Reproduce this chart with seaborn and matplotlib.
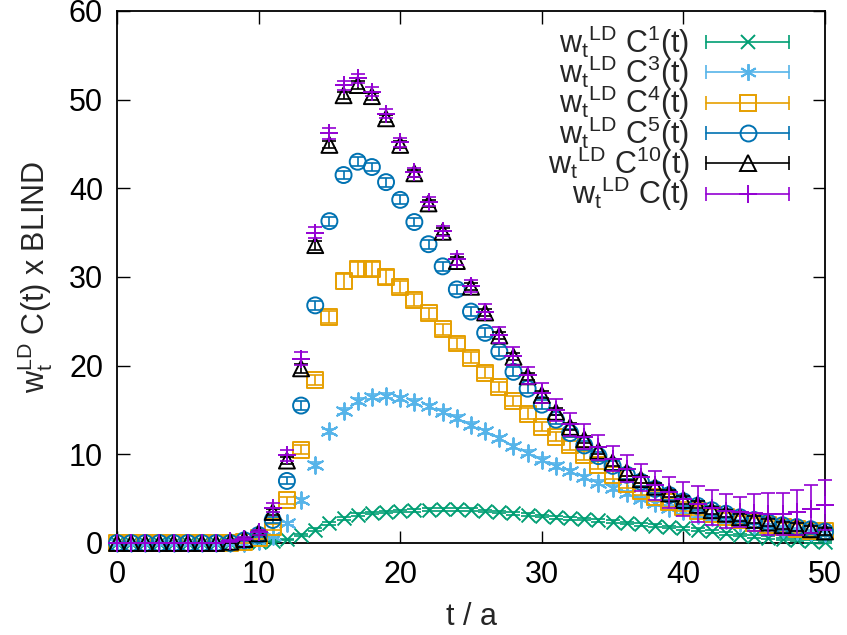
import matplotlib
matplotlib.use("Agg")
import matplotlib.pyplot as plt
import seaborn as sns
import pandas as pd
from matplotlib.lines import Line2D
from matplotlib.legend_handler import HandlerLine2D, HandlerTuple

# ---------------- data ----------------
t = list(range(51))

c1 = [0, 0, 0, 0, 0, 0, 0, 0, 0, 0.0, 0.1, 0.2, 0.4, 0.9, 1.5, 2.2, 2.8, 3.2, 3.4, 3.5,
      3.6, 3.7, 3.75, 3.8, 3.8, 3.75, 3.6, 3.5, 3.35, 3.2, 3.05, 2.9, 2.8, 2.7, 2.55, 2.4,
      2.25, 2.1, 1.95, 1.8, 1.65, 1.5, 1.3, 1.1, 0.9, 0.75, 0.6, 0.45, 0.35, 0.2, 0.1]
c3 = [0, 0, 0, 0, 0, 0, 0, 0, 0, 0, 0.25, 0.8, 2.2, 4.8, 8.8, 12.6, 14.9, 16.0, 16.5, 16.6,
      16.3, 15.9, 15.4, 14.8, 14.1, 13.3, 12.6, 11.8, 10.9, 10.2, 9.4, 8.7, 8.1, 7.4, 6.8, 6.2,
      5.6, 5.0, 4.5, 4.0, 3.6, 3.2, 2.9, 2.6, 2.3, 2.0, 1.8, 1.6, 1.4, 1.2, 1.1]
c4 = [0, 0, 0, 0, 0, 0, 0, 0, 0, 0.1, 0.6, 1.8, 4.8, 10.5, 18.4, 25.5, 29.5, 30.9, 30.9, 30.0,
      28.9, 27.4, 25.9, 24.1, 22.5, 20.9, 19.2, 17.6, 16.0, 14.6, 13.1, 12.0, 11.0, 9.9, 8.8, 7.7,
      6.7, 5.9, 5.2, 4.6, 4.1, 3.65, 3.3, 2.9, 2.6, 2.3, 2.0, 1.8, 1.6, 1.4, 1.3]
c5 = [0, 0, 0, 0, 0, 0, 0, 0, 0, 0.3, 0.9, 2.6, 7.0, 15.5, 26.8, 36.3, 41.5, 43.0, 42.4, 40.7,
      38.7, 36.2, 33.7, 31.2, 28.6, 26.1, 23.7, 21.6, 19.3, 17.4, 15.6, 13.9, 12.4, 11.0, 9.8, 8.7,
      7.7, 6.9, 6.1, 5.4, 4.7, 4.2, 3.7, 3.3, 2.9, 2.6, 2.3, 2.0, 1.8, 1.55, 1.3]
c10 = [0, 0, 0, 0, 0, 0, 0, 0, 0.15, 0.45, 1.1, 3.5, 9.3, 19.7, 33.6, 44.9, 50.5, 51.65, 50.4, 47.9,
       44.9, 41.7, 38.3, 35.1, 31.8, 28.9, 26.0, 23.4, 21.0, 18.8, 16.7, 14.8, 13.1, 11.7, 10.4, 9.1,
       8.0, 7.2, 6.35, 5.6, 4.85, 4.3, 3.7, 3.3, 2.9, 2.6, 2.3, 2.0, 1.8, 1.55, 1.3]
cfull = [0, 0, 0, 0, 0, 0, 0, 0, 0.2, 0.5, 1.2, 4.0, 9.9, 20.8, 35.0, 46.2, 51.6, 52.4, 50.9, 48.4,
         45.2, 41.8, 38.5, 35.2, 32.0, 29.0, 26.1, 23.5, 21.1, 18.9, 16.9, 15.0, 13.4, 12.0, 10.8, 9.5,
         8.4, 7.4, 6.5, 5.7, 5.0, 4.4, 4.0, 3.6, 3.5, 3.4, 3.25, 3.25, 3.45, 3.8, 4.3]

# error bars (t = 0..50)
e1 = ([0.02] * 10 + [0.05, 0.08, 0.1, 0.12, 0.15, 0.15, 0.15, 0.15, 0.15, 0.15]
      + [0.15] * 31)
e3 = ([0.02] * 10 + [0.1, 0.15, 0.2, 0.25, 0.3, 0.3, 0.3, 0.3, 0.3, 0.3]
      + [0.3] * 31)
e4 = ([0.03] * 9 + [0.1, 0.2, 0.3, 0.4, 0.5, 0.6, 0.7, 0.8, 0.8, 0.8, 0.8]
      + [0.7, 0.7, 0.6, 0.6, 0.6, 0.6, 0.6, 0.6, 0.6, 0.6] + [0.5] * 21)
e5 = ([0.03] * 9 + [0.1, 0.2, 0.3, 0.4, 0.5, 0.5, 0.5, 0.5, 0.5, 0.5, 0.5]
      + [0.5] * 31)
e10 = ([0.03] * 8 + [0.1, 0.15, 0.2, 0.3, 0.4, 0.5, 0.5, 0.4, 0.4, 0.4, 0.4, 0.4]
       + [0.4] * 31)
efull = ([0.05] * 8 + [0.1, 0.2, 0.3, 0.5, 0.6, 0.7, 0.6, 0.6, 0.5, 0.5, 0.5, 0.5]
         + [0.5, 0.5, 0.5, 0.6, 0.6, 0.7, 0.8, 0.9, 1.0, 1.0, 1.1, 1.2, 1.3, 1.4, 1.4]
         + [1.4, 1.5, 1.5, 1.6, 1.7, 1.9, 2.0, 2.0, 1.9, 1.7, 2.1, 2.35, 2.35, 2.55, 2.7]
         + [2.8])

labels = [r"$\mathrm{w_t{}^{LD}\ C^{1}(t)}$",
          r"$\mathrm{w_t{}^{LD}\ C^{3}(t)}$",
          r"$\mathrm{w_t{}^{LD}\ C^{4}(t)}$",
          r"$\mathrm{w_t{}^{LD}\ C^{5}(t)}$",
          r"$\mathrm{w_t{}^{LD}\ C^{10}(t)}$",
          r"$\mathrm{w_t{}^{LD}\ C(t)}$"]
xticks = [0, 10, 20, 30, 40, 50]
yticks = [0, 10, 20, 30, 40, 50, 60]

# ---------------- style ----------------
sns.set_theme(style="ticks")
plt.rcParams["font.family"] = ["Liberation Sans", "DejaVu Sans"]
plt.rcParams["mathtext.fontset"] = "custom"
plt.rcParams["mathtext.rm"] = "Liberation Sans"
plt.rcParams["mathtext.it"] = "Liberation Sans:italic"
plt.rcParams["mathtext.bf"] = "Liberation Sans:bold"

FS = 22
series = [
    (c1, e1, "#009e73", "x", 10),
    (c3, e3, "#56b4e9", (6, 2, 0), 12),
    (c4, e4, "#e69f00", "s", 11.5),
    (c5, e5, "#0072b2", "o", 11.5),
    (c10, e10, "#000000", "^", 11.5),
    (cfull, efull, "#9400d3", "+", 13),
]

fig = plt.figure(figsize=(8.47, 6.35), dpi=100)
ax = fig.add_axes([117 / 847, 1 - 543 / 635, (825 - 117) / 847, (543 - 11) / 635])

CAP = 5.0
LW = 1.2
handles = []
handler_map = {}
for i, (vals, errs, col, mk, ms) in enumerate(series):
    z = 3 + i * 0.1
    ax.errorbar(t, vals, yerr=errs, fmt="none", ecolor=col, elinewidth=LW,
                capsize=CAP, capthick=LW, zorder=z, clip_on=False)
    sns.scatterplot(x=t, y=vals, ax=ax, marker=mk, s=ms ** 2, color=col,
                    linewidth=1.4, zorder=z + 0.05, clip_on=False, legend=False)
    pc = ax.collections[-1]
    if mk in ("s", "o", "^"):
        pc.set_facecolor("none")
    pc.set_edgecolor(col)
    pc.set_linewidth(1.4)

    capline = Line2D([0], [0], color=col, lw=LW, marker="|", ms=2 * CAP, mew=LW)
    mkline = Line2D([0], [0], ls="none", marker=mk, ms=ms, mec=col,
                    mfc="none" if mk in ("s", "o", "^") else col, mew=1.4)
    handler_map[capline] = HandlerLine2D(numpoints=2, marker_pad=0.0)
    handler_map[mkline] = HandlerLine2D(numpoints=1)
    handles.append((capline, mkline))

handler_map[tuple] = HandlerTuple(ndivide=1)

ax.set_xlim(0, 50)
ax.set_ylim(0, 60)
ax.set_xticks(xticks)
ax.set_yticks(yticks)
ax.tick_params(direction="in", length=9, width=1.0, top=True, right=True,
               labelsize=FS, colors="black")
ax.tick_params(axis="x", pad=12)
ax.tick_params(axis="y", pad=10)
for sp in ax.spines.values():
    sp.set_linewidth(1.3)
    sp.set_color("black")
    sp.set_visible(True)

ax.set_xlabel("t / a", fontsize=FS, labelpad=9)
ax.set_ylabel(r"$\mathrm{w_t^{LD}}$ C(t) x BLIND", fontsize=FS, labelpad=10)

leg = ax.legend(handles, labels, handler_map=handler_map, loc="upper right",
                bbox_to_anchor=(0.949, 0.977),
                frameon=False, markerfirst=False, fontsize=FS, handlelength=2.7,
                handletextpad=0.55, labelspacing=-0.26, borderaxespad=0.0,
                borderpad=0.0)

fig.savefig("out.png", dpi=100)
